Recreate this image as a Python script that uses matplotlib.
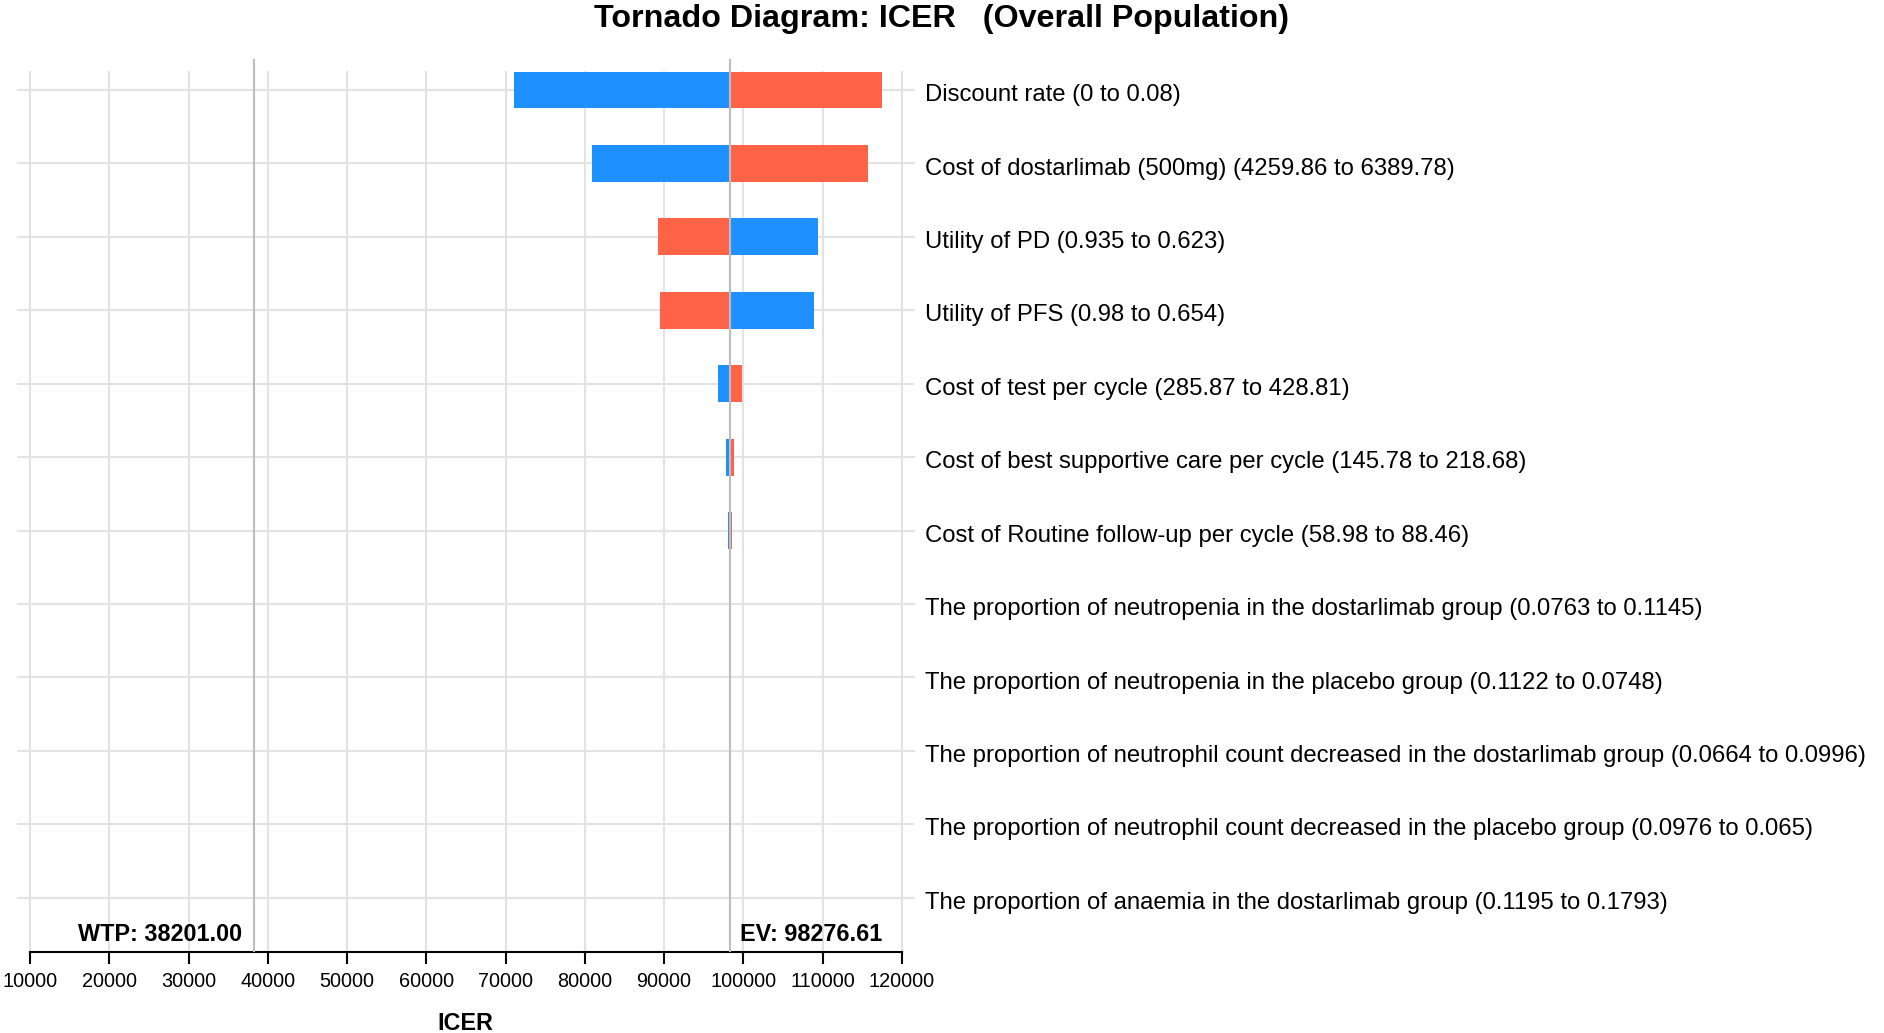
import numpy as np
import matplotlib
matplotlib.use('Agg')
import matplotlib.pyplot as plt
import matplotlib.transforms as mtransforms

plt.rcParams['font.family'] = ['Liberation Sans', 'DejaVu Sans']

# parameters, top to bottom
params = [
    'Discount rate (0 to 0.08)',
    'Cost of dostarlimab (500mg) (4259.86 to 6389.78)',
    'Utility of PD (0.935 to 0.623)',
    'Utility of PFS (0.98 to 0.654)',
    'Cost of test per cycle (285.87 to 428.81)',
    'Cost of best supportive care per cycle (145.78 to 218.68)',
    'Cost of Routine follow-up per cycle (58.98 to 88.46)',
    'The proportion of neutropenia in the dostarlimab group (0.0763 to 0.1145)',
    'The proportion of neutropenia in the placebo group (0.1122 to 0.0748)',
    'The proportion of neutrophil count decreased in the dostarlimab group (0.0664 to 0.0996)',
    'The proportion of neutrophil count decreased in the placebo group (0.0976 to 0.065)',
    'The proportion of anaemia in the dostarlimab group (0.1195 to 0.1793)',
]

ev = 98276.61
wtp = 38201.00

# ICER at each end of the range (blue bar end, red bar end)
icer_blue = [71110, 80890, 109470, 108940, 96800, 97820, 98080,
             ev, ev, ev, ev, ev]
icer_red = [117500, 115750, 89230, 89530, 99840, 98830, 98520,
            ev, ev, ev, ev, ev]

xticks = list(range(10000, 120001, 10000))

blue = '#1E90FF'
red = '#FF6347'
grid_col = '#E3E3E3'
ref_col = '#BDBDBD'

fig = plt.figure(figsize=(18.84, 10.33), dpi=100)
ax = fig.add_axes([0.00902, 0.0787, 0.4767, 0.8639])

rows = np.arange(len(params))
ax.set_xlim(8360, 121666)
ax.set_ylim(11.735, -0.418)

# grid
ax.hlines(rows, 8360, 121666, color=grid_col, lw=1.5, zorder=0)
ax.vlines(xticks, -0.259, 11.735, color=grid_col, lw=1.5, zorder=0)

# bars
ax.barh(rows, np.array(icer_blue) - ev, left=ev, height=0.5, color=blue, zorder=2)
ax.barh(rows, np.array(icer_red) - ev, left=ev, height=0.5, color=red, zorder=2)

# reference lines
ax.axvline(wtp, color=ref_col, lw=1.5, zorder=3)
ax.axvline(ev, color=ref_col, lw=1.5, zorder=3)
ax.text(wtp - 1390, 11.59, 'WTP: %.2f' % wtp, ha='right', va='baseline',
        fontsize=16.8, fontweight='bold')
ax.text(ev + 1350, 11.59, 'EV: %.2f' % ev, ha='left', va='baseline',
        fontsize=16.8, fontweight='bold')

# parameter labels on the right
trans = mtransforms.blended_transform_factory(ax.transAxes, ax.transData)
for r, lab in zip(rows, params):
    ax.text(1.0105, r + 0.152, lab, transform=trans, ha='left', va='baseline',
            fontsize=17.2)

# axes styling
for s in ['left', 'right', 'top']:
    ax.spines[s].set_visible(False)
ax.spines['bottom'].set_bounds(10000, 120000)
ax.spines['bottom'].set_linewidth(1.5)
ax.set_xticks(xticks)
ax.set_xticklabels([str(t) for t in xticks])
ax.tick_params(axis='x', length=8.6, width=1.5, pad=6, labelsize=14.3)
ax.set_yticks([])

fig.text(0.5, 1 - 27 / 1033, 'Tornado Diagram: ICER   (Overall Population)',
         ha='center', va='baseline', fontsize=23.2, fontweight='bold')
fig.text(465 / 1884, 1 - 1030 / 1033, 'ICER', ha='center', va='baseline',
         fontsize=16.8, fontweight='bold')

fig.savefig('out.png', dpi=100)
